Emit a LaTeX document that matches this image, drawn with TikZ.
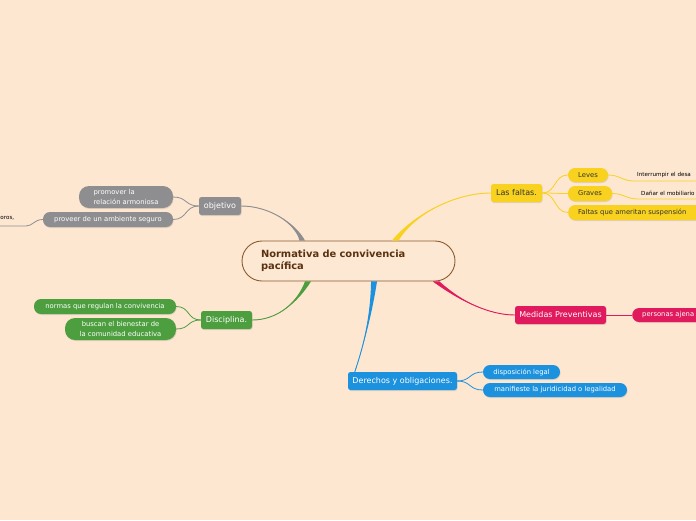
\documentclass[tikz,border=0pt]{standalone}
\usepackage{fontspec}
\setmainfont{DejaVu Sans}
\usetikzlibrary{calc,shadows}
\definecolor{bg}{HTML}{FDE7D1}
\definecolor{cfill}{HTML}{FDE8D4}
\definecolor{cborder}{HTML}{8A5A2E}
\definecolor{ctext}{HTML}{5A3210}
\definecolor{cgray}{HTML}{8E8E90}
\definecolor{cgreen}{HTML}{4D9E3E}
\definecolor{cyellow}{HTML}{F8D21F}
\definecolor{cpink}{HTML}{E01A5C}
\definecolor{cblue}{HTML}{1C91DE}
\definecolor{dtext}{HTML}{333333}
\tikzset{
  shad/.style={drop shadow={opacity=0.22,shadow xshift=0.6pt,shadow yshift=-1pt}},
  mainbox/.style={shad, rounded corners=2.5pt, minimum height=18pt, inner sep=0pt, text=white, font=\fontsize{8}{9}\selectfont},
  pill/.style={shad, rounded corners=7pt, inner sep=0pt, minimum height=15pt, text=white, font=\fontsize{6.8}{9.6}\selectfont, align=center},
  tiny/.style={inner sep=0pt, font=\fontsize{5.6}{7}\selectfont, text=black, anchor=west},
  sub/.style={line width=0.8pt},
}
\newcommand\branch[6]{%
  \fill[#1] #2 .. controls #4 and #5 .. #6 .. controls #5 and #4 .. #3 -- cycle;
  \draw[#1, line width=0.9pt] #2 .. controls #4 and #5 .. #6;}
\begin{document}
\begin{tikzpicture}[x=1pt,y=-1pt]
\useasboundingbox (0,0) rectangle (696,520);
\fill[bg] (0,0) rectangle (696,520);
\begin{scope}
\clip (0,0) rectangle (696,520);

% central node
\node[draw=cborder, line width=0.9pt, fill=cfill, rounded corners=20pt,
      minimum width=213pt, minimum height=40pt, text width=175pt, inner xsep=19pt, inner ysep=0pt,
      align=left, text=ctext, font=\bfseries\fontsize{9.9}{12.5}\selectfont]
  (c) at (348.5,261) {Normativa de convivencia\\pacífica};

% main branches
\node[mainbox, fill=cgray, minimum width=42pt] (obj) at (220,206) {objetivo};
\node[mainbox, fill=cgreen, minimum width=51pt] (dis) at (226.5,320) {Disciplina.};
\node[mainbox, fill=cyellow, minimum width=51pt, text=dtext] (fal) at (516.5,193) {Las faltas.};
\node[mainbox, fill=cpink, minimum width=91pt] (med) at (560.5,315) {Medidas Preventivas};
\node[mainbox, fill=cblue, minimum width=109pt] (der) at (402.5,381) {Derechos y obligaciones.};

% tapered connectors from centre
\branch{cgray}{($(c.north)+(-48.5,0)$)}{($(c.north)+(-43.5,0)$)}{(295,222)}{(268,206)}{(obj.east)}
\branch{cyellow}{($(c.north)+(44,0)$)}{($(c.north)+(50,0)$)}{(415,214)}{(455,193)}{(fal.west)}
\branch{cgreen}{($(c.south)+(-43,0)$)}{($(c.south)+(-37.5,0)$)}{(298,302)}{(278,320)}{(dis.east)}
\branch{cpink}{($(c.south)+(85,0)$)}{($(c.south)+(91,0)$)}{(462,302)}{(490,315)}{(med.west)}
\branch{cblue}{($(c.south)+(23,0)$)}{($(c.south)+(28.5,0)$)}{(371,320)}{(362,350)}{($(der.north west)+(7,0)$)}

% objetivo children
\node[pill, fill=cgray, minimum width=94pt, minimum height=22pt, rounded corners=10pt, align=left] (prom) at (126,197) {promover la\\relación armoniosa};
\node[pill, fill=cgray, minimum width=130pt] (prov) at (108,219.5) {proveer de un ambiente seguro};
\draw[sub, cgray] (obj.west) .. controls +(-14,0) and +(14,0) .. (prom.east);
\draw[sub, cgray] (obj.west) .. controls +(-14,0) and +(14,0) .. (prov.east);
\node[tiny, anchor=west] (oros) at (0.3,218.5) {oros,};
\coordinate (orosl) at (0,226);
\draw[sub, cgray] (orosl) -- (26,226) .. controls (33,226) and (34,219.5) .. (prov.west);

% disciplina children
\node[pill, fill=cgreen, minimum width=142pt] (norm) at (105,306.5) {normas que regulan la convivencia};
\node[pill, fill=cgreen, minimum width=111pt, minimum height=22pt, rounded corners=10pt] (busc) at (120.5,329) {buscan el bienestar de\\la comunidad educativa};
\draw[sub, cgreen] (dis.west) .. controls +(-14,0) and +(14,0) .. (norm.east);
\draw[sub, cgreen] (dis.west) .. controls +(-14,0) and +(14,0) .. (busc.east);

% faltas children
\node[pill, fill=cyellow, text=dtext, minimum width=40pt, minimum height=14pt] (lev) at (588,175) {Leves};
\node[pill, fill=cyellow, text=dtext, minimum width=44pt] (gra) at (590,193.5) {Graves};
\node[pill, fill=cyellow, text=dtext, text width=130pt, inner xsep=10pt, align=left, anchor=west] (fsus) at (568,212.5) {Faltas que ameritan suspensión};
\draw[sub, cyellow] (fal.east) .. controls +(14,0) and +(-14,0) .. (lev.west);
\draw[sub, cyellow] (fal.east) .. controls +(14,0) and +(-14,0) .. (gra.west);
\draw[sub, cyellow] (fal.east) .. controls +(14,0) and +(-14,0) .. (fsus.west);
\node[tiny] (int) at (637,175) {Interrumpir el desa};
\node[tiny] (dan) at (641,193) {Dañar el mobiliario};
\coordinate (intr) at (700,181);
\coordinate (danr) at (700,199);
\draw[sub, cyellow] (lev.east) .. controls (620,175) and (622,181) .. (634,181) -- (intr);
\draw[sub, cyellow] (gra.east) .. controls (624,193.5) and (626,199) .. (638,199) -- (danr);

% medidas child
\node[pill, fill=cpink, text width=80pt, inner xsep=10pt, align=left, minimum height=14pt, anchor=west] (pers) at (632,315) {personas ajena};
\draw[sub, cpink] (med.east) -- (pers.west);

% derechos children
\node[pill, fill=cblue, minimum width=77pt, minimum height=14pt] (disp) at (521.5,372) {disposición legal};
\node[pill, fill=cblue, minimum width=144pt, minimum height=14pt] (mani) at (555,390) {manifieste la juridicidad o legalidad};
\draw[sub, cblue] (der.east) .. controls +(14,0) and +(-14,0) .. (disp.west);
\draw[sub, cblue] (der.east) .. controls +(14,0) and +(-14,0) .. (mani.west);
\end{scope}
\end{tikzpicture}
\end{document}
